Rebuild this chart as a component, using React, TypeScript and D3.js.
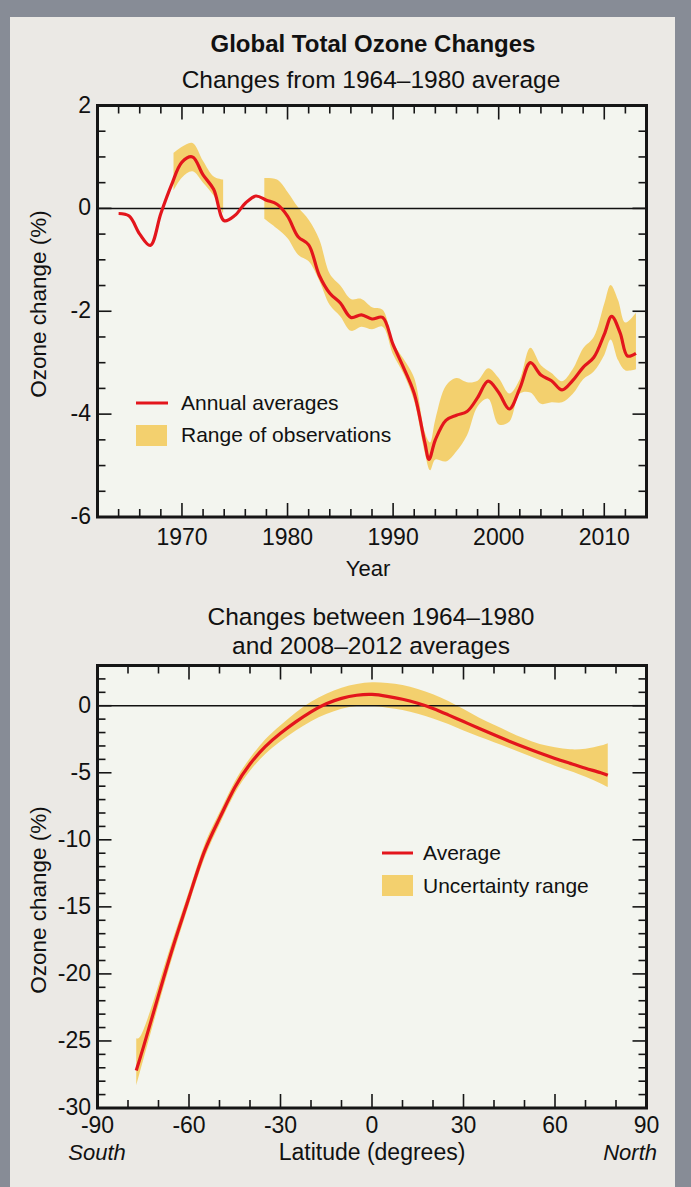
import React from "react";
import * as d3 from "d3";

// ---------- Data: top chart (annual averages) ----------
const annualYears = [1964, 1965, 1966, 1967, 1968, 1969, 1970, 1971, 1972, 1973, 1974, 1975, 1976, 1977, 1978, 1979, 1980, 1981, 1982, 1983, 1984, 1985, 1986, 1987, 1988, 1989, 1990, 1991, 1992, 1993, 1993.4, 1994, 1995, 1996, 1997, 1998, 1999, 2000, 2001, 2002, 2003, 2004, 2005, 2006, 2007, 2008, 2009, 2010, 2010.7, 2011.5, 2012.2, 2013];
const annualValues = [-0.1, -0.15, -0.5, -0.72, -0.1, 0.45, 0.9, 1.0, 0.65, 0.37, -0.24, -0.14, 0.1, 0.24, 0.16, 0.08, -0.15, -0.55, -0.71, -1.3, -1.65, -1.84, -2.12, -2.07, -2.15, -2.12, -2.65, -3.1, -3.6, -4.55, -4.88, -4.5, -4.12, -4.02, -3.95, -3.68, -3.36, -3.58, -3.9, -3.5, -3.0, -3.24, -3.35, -3.53, -3.35, -3.09, -2.9, -2.45, -2.1, -2.42, -2.87, -2.82];

// Range of observations: two separate segments
const range1Years = [1969.2, 1970, 1971, 1972, 1973, 1973.9];
const range1Hi = [1.08, 1.2, 1.27, 0.92, 0.62, 0.56];
const range1Lo = [0.35, 0.6, 0.72, 0.5, 0.25, -0.1];

const range2Years = [1977.8, 1979, 1980, 1981, 1982, 1983, 1984, 1985, 1986, 1987, 1988, 1989, 1990, 1991, 1992, 1993, 1993.5, 1994, 1995, 1996, 1997, 1998, 1999, 2000, 2001, 2002, 2003, 2004, 2005, 2006, 2007, 2008, 2009, 2010, 2010.6, 2011.3, 2012, 2013];
const range2Hi = [0.59, 0.56, 0.32, 0.02, -0.22, -0.6, -1.27, -1.5, -1.76, -1.76, -1.92, -1.97, -2.61, -2.93, -3.3, -4.35, -4.55, -4.1, -3.45, -3.3, -3.38, -3.35, -3.11, -3.3, -3.6, -3.32, -2.71, -3.05, -3.2, -3.36, -3.13, -2.72, -2.5, -1.85, -1.49, -1.78, -2.22, -2.03];
const range2Lo = [-0.2, -0.39, -0.58, -0.9, -1.03, -1.4, -1.88, -2.1, -2.38, -2.3, -2.35, -2.3, -2.84, -3.22, -3.75, -4.75, -5.09, -4.88, -4.92, -4.72, -4.41, -3.85, -3.7, -4.2, -4.15, -3.6, -3.58, -3.8, -3.77, -3.77, -3.61, -3.32, -3.17, -2.85, -2.55, -2.95, -3.15, -3.13];

const topYLabels = [2, 0, -2, -4, -6];
const topXLabels = [1970, 1980, 1990, 2000, 2010];

// ---------- Data: bottom chart (latitude) ----------
const latitudes = [-77.3, -75, -70, -65, -60, -55, -50, -45, -40, -35, -30, -25, -20, -15, -10, -5, 0, 5, 10, 15, 20, 25, 30, 35, 40, 45, 50, 55, 60, 65, 70, 75, 77.3];
const latAverage = [-27.2, -25.5, -21.6, -17.8, -14.3, -10.9, -8.4, -6.1, -4.35, -3.05, -2.05, -1.2, -0.45, 0.15, 0.55, 0.78, 0.84, 0.7, 0.48, 0.18, -0.2, -0.68, -1.18, -1.68, -2.17, -2.65, -3.1, -3.53, -3.93, -4.3, -4.66, -5.0, -5.19];
const latHi = [-24.8, -24.2, -20.8, -17.2, -13.8, -10.4, -7.95, -5.65, -3.9, -2.5, -1.45, -0.5, 0.3, 0.9, 1.35, 1.62, 1.75, 1.7, 1.55, 1.25, 0.85, 0.35, -0.25, -0.88, -1.42, -1.95, -2.45, -2.85, -3.1, -3.25, -3.2, -2.97, -2.79];
const latLo = [-28.3, -26.4, -22.3, -18.4, -14.8, -11.4, -8.85, -6.55, -4.85, -3.6, -2.65, -1.85, -1.15, -0.62, -0.22, -0.02, 0.0, -0.15, -0.32, -0.6, -0.95, -1.37, -1.85, -2.3, -2.72, -3.15, -3.6, -4.05, -4.47, -4.87, -5.3, -5.8, -6.07];

const bottomYLabels = [0, -5, -10, -15, -20, -25, -30];
const bottomXLabels = [-90, -60, -30, 0, 30, 60, 90];

const RED = "#E3151C";
const BAND = "#F3D06E";
const FRAME = "#151515";
const PLOT_BG = "#F3F5EF";
const PANEL_BG = "#EBE9E5";
const OUTER = "#878C96";
const FONT = "'Liberation Sans', Arial, sans-serif";

const L = 97.5, R = 646.5;

function Frame({ x, y, top, bottom, xTicks, xMajor, yTicks, yMajor }: any) {
  const els: any[] = [];
  xTicks.forEach((t: number, i: number) => {
    const px = x(t);
    if (px <= L + 2 || px >= R - 2) return;
    const len = xMajor(t) ? 14 : 8;
    els.push(<line key={"xb" + i} x1={px} x2={px} y1={bottom} y2={bottom - len} stroke={FRAME} strokeWidth={1.6} />);
    els.push(<line key={"xt" + i} x1={px} x2={px} y1={top} y2={top + len} stroke={FRAME} strokeWidth={1.6} />);
  });
  yTicks.forEach((t: number, i: number) => {
    const py = y(t);
    if (py <= top + 2 || py >= bottom - 2) return;
    const len = yMajor(t) ? 14 : 8;
    els.push(<line key={"yl" + i} x1={L} x2={L + len} y1={py} y2={py} stroke={FRAME} strokeWidth={1.6} />);
    els.push(<line key={"yr" + i} x1={R} x2={R - len} y1={py} y2={py} stroke={FRAME} strokeWidth={1.6} />);
  });
  return <g>{els}</g>;
}

export default function App() {
  // top scales
  const x1 = d3.scaleLinear().domain([1962, 2014]).range([L, R]);
  const y1 = d3.scaleLinear().domain([-6, 2]).range([517, 105.5]);
  // bottom scales
  const x2 = d3.scaleLinear().domain([-90, 90]).range([L, R]);
  const y2 = d3.scaleLinear().domain([-30, 3]).range([1108, 665.5]);

  const curve = d3.curveCatmullRom.alpha(0.5);
  const smooth = d3.curveNatural;

  const line1 = d3.line<number>().x((_, i) => x1(annualYears[i])).y((d) => y1(d)).curve(curve);
  const area1a = d3.area<number>().x((d) => x1(d)).y0((_, i) => y1(range1Lo[i])).y1((_, i) => y1(range1Hi[i])).curve(curve);
  const area1b = d3.area<number>().x((d) => x1(d)).y0((_, i) => y1(range2Lo[i])).y1((_, i) => y1(range2Hi[i])).curve(curve);

  const line2 = d3.line<number>().x((_, i) => x2(latitudes[i])).y((d) => y2(d)).curve(smooth);
  const area2 = d3.area<number>().x((d) => x2(d)).y0((_, i) => y2(latLo[i])).y1((_, i) => y2(latHi[i])).curve(smooth);

  const top1 = 105.5, bot1 = 517;
  const top2 = 665.5, bot2 = 1108;

  return (
    <svg width={691} height={1187} style={{ position: "absolute", left: 0, top: 0 }} fontFamily={FONT}>
      <rect x={0} y={0} width={691} height={1187} fill={OUTER} />
      <rect x={10} y={17} width={665} height={1170} fill={PANEL_BG} />

      <text x={373} y={52} textAnchor="middle" fontSize={24} fontWeight="bold" fill="#111">Global Total Ozone Changes</text>
      <text x={371} y={88} textAnchor="middle" fontSize={24.5} fill="#111">Changes from 1964–1980 average</text>

      {/* ---------- Top chart ---------- */}
      <clipPath id="clip1"><rect x={L} y={top1} width={R - L} height={bot1 - top1} /></clipPath>
      <rect x={L} y={top1} width={R - L} height={bot1 - top1} fill={PLOT_BG} />
      <g clipPath="url(#clip1)">
        <path d={area1a(range1Years) || ""} fill={BAND} />
        <path d={area1b(range2Years) || ""} fill={BAND} />
        <line x1={L} x2={R} y1={y1(0)} y2={y1(0)} stroke="#111" strokeWidth={1.5} />
        <path d={line1(annualValues) || ""} fill="none" stroke={RED} strokeWidth={3.2} strokeLinejoin="round" />
      </g>
      <Frame x={x1} y={y1} top={top1} bottom={bot1} xTicks={x1.ticks(26)} xMajor={(t: number) => t % 10 === 0}
        yTicks={y1.ticks(16)} yMajor={(t: number) => t % 2 === 0} />
      <rect x={L} y={top1} width={R - L} height={bot1 - top1} fill="none" stroke={FRAME} strokeWidth={3} />

      {topYLabels.map((t) => (
        <text key={"ty" + t} x={91} y={y1(t) + 7} textAnchor="end" fontSize={23} fill="#111">{t}</text>
      ))}
      {topXLabels.map((t) => (
        <text key={"tx" + t} x={x1(t)} y={545} textAnchor="middle" fontSize={23} fill="#111">{t}</text>
      ))}
      <text x={368} y={576} textAnchor="middle" fontSize={22} fill="#111">Year</text>
      <text transform="translate(46,304) rotate(-90)" textAnchor="middle" fontSize={22.5} fill="#111">Ozone change (%)</text>

      {/* top legend */}
      <line x1={136} x2={168} y1={403} y2={403} stroke={RED} strokeWidth={3} />
      <text x={181} y={410} fontSize={21} fill="#111">Annual averages</text>
      <rect x={136} y={425} width={31} height={21} fill={BAND} />
      <text x={181} y={442} fontSize={21} fill="#111">Range of observations</text>

      {/* ---------- Bottom chart ---------- */}
      <text x={371} y={625} textAnchor="middle" fontSize={24.5} fill="#111">Changes between 1964–1980</text>
      <text x={371} y={654} textAnchor="middle" fontSize={24.5} fill="#111">and 2008–2012 averages</text>

      <clipPath id="clip2"><rect x={L} y={top2} width={R - L} height={bot2 - top2} /></clipPath>
      <rect x={L} y={top2} width={R - L} height={bot2 - top2} fill={PLOT_BG} />
      <g clipPath="url(#clip2)">
        <path d={area2(latitudes) || ""} fill={BAND} />
        <line x1={L} x2={R} y1={y2(0)} y2={y2(0)} stroke="#111" strokeWidth={1.5} />
        <path d={line2(latAverage) || ""} fill="none" stroke={RED} strokeWidth={3.2} strokeLinejoin="round" />
      </g>
      <Frame x={x2} y={y2} top={top2} bottom={bot2} xTicks={x2.ticks(18)} xMajor={(t: number) => t % 30 === 0}
        yTicks={y2.ticks(33)} yMajor={(t: number) => t % 5 === 0} />
      <rect x={L} y={top2} width={R - L} height={bot2 - top2} fill="none" stroke={FRAME} strokeWidth={3} />

      {bottomYLabels.map((t) => (
        <text key={"by" + t} x={91} y={y2(t) + 7} textAnchor="end" fontSize={23} fill="#111">{t}</text>
      ))}
      {bottomXLabels.map((t) => (
        <text key={"bx" + t} x={x2(t)} y={1133} textAnchor="middle" fontSize={23} fill="#111">{t}</text>
      ))}
      <text x={97} y={1160} textAnchor="middle" fontSize={22} fontStyle="italic" fill="#111">South</text>
      <text x={657} y={1160} textAnchor="end" fontSize={22} fontStyle="italic" fill="#111">North</text>
      <text x={372} y={1160} textAnchor="middle" fontSize={23} fill="#111">Latitude (degrees)</text>
      <text transform="translate(46,900) rotate(-90)" textAnchor="middle" fontSize={22.5} fill="#111">Ozone change (%)</text>

      {/* bottom legend */}
      <line x1={382} x2={413} y1={853} y2={853} stroke={RED} strokeWidth={3} />
      <text x={423} y={860} fontSize={21} fill="#111">Average</text>
      <rect x={382} y={875} width={31} height={21} fill={BAND} />
      <text x={423} y={893} fontSize={21} fill="#111">Uncertainty range</text>
    </svg>
  );
}
